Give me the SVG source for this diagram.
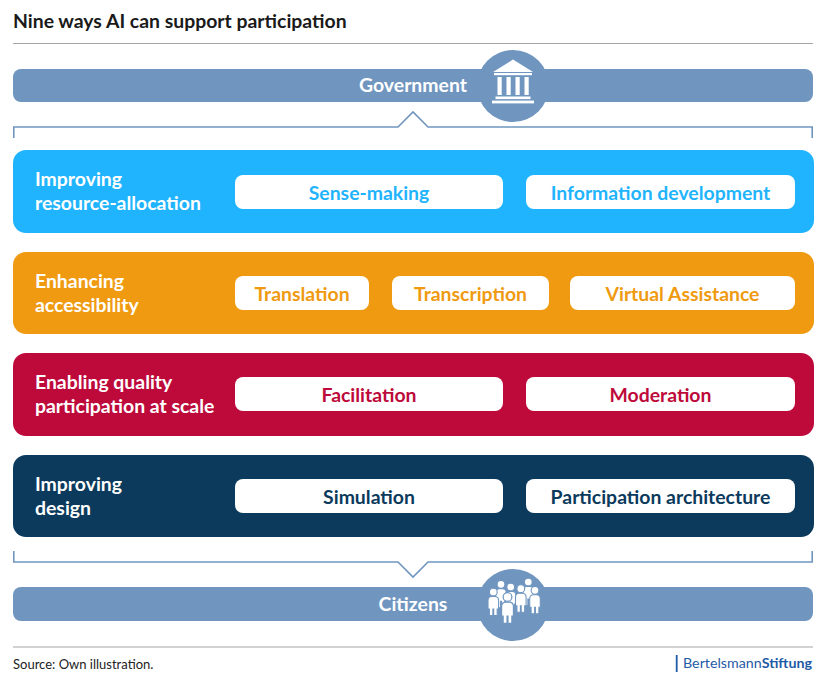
<svg xmlns="http://www.w3.org/2000/svg" width="828" height="683" viewBox="0 0 828 683">
<style>
text{font-family:Lato,"Noto Sans",sans-serif}
.title{font-size:19.4px;font-weight:700;fill:#1a1a1a}
.bar{fill:#7096c0}
.barlbl{font-size:19.4px;font-weight:700;fill:#fff;text-anchor:middle}
.brk{fill:none;stroke:#7096c0;stroke-width:1.6}
.sep{stroke:#a6a6a6;stroke-width:1.2}
.lbl{font-size:19.4px;font-weight:700;fill:#fff}
.pill{fill:#fff}
.pt{font-size:19.4px;font-weight:700;text-anchor:middle}
.ico{fill:#fff}
.src{font-size:13px;fill:#222}
</style>
<defs>
<g id="person">
<circle cx="0" cy="0" r="3.9"/>
<path d="M-5.3,17 V8.5 Q-5.3,4.5 -1.5,4.5 H1.5 Q5.3,4.5 5.3,8.5 V17 H3.9 V23.5 H0.4 V17 H-0.4 V23.5 H-3.9 V17 Z"/>
</g>
</defs>
<text class="title" x="13" y="28">Nine ways AI can support participation</text>
<line class="sep" x1="13" y1="43.5" x2="813" y2="43.5"/>

<g id="government">
<rect class="bar" x="13" y="69" width="800" height="33" rx="8"/>
<circle class="bar" cx="513" cy="86" r="36"/>
<text class="barlbl" x="413" y="92">Government</text>
<g class="ico">
<path d="M493,72 L513,59.5 L533,72 Z"/>
<rect x="494" y="73" width="38" height="2.2"/>
<rect x="497.5" y="77" width="4.2" height="18"/>
<rect x="506.5" y="77" width="4.2" height="18"/>
<rect x="515.5" y="77" width="4.2" height="18"/>
<rect x="524.5" y="77" width="4.2" height="18"/>
<rect x="495.5" y="96.5" width="35" height="2.6"/>
<rect x="492" y="100.6" width="42" height="2.8"/>
</g>
</g>

<g id="connectors">
<path class="brk" d="M13.8,138 V127 H398 L413,112 L428,127 H812.2 V138"/>
<path class="brk" d="M13.8,551 V562 H398 L413,577 L428,562 H812.2 V551"/>
</g>

<g id="band-resource">
<rect x="13" y="150" width="801" height="83" rx="13" fill="#1fb4fd"/>
<text class="lbl" x="35" y="186">Improving</text>
<text class="lbl" x="35" y="210">resource-allocation</text>
<rect class="pill" x="235" y="175" width="268" height="34" rx="8"/>
<text class="pt" x="369" y="200" fill="#1fb4fd">Sense-making</text>
<rect class="pill" x="526" y="175" width="269" height="34" rx="8"/>
<text class="pt" x="660.5" y="200" fill="#1fb4fd">Information development</text>
</g>

<g id="band-accessibility">
<rect x="13" y="252" width="801" height="82" rx="13" fill="#ef9a10"/>
<text class="lbl" x="35" y="288">Enhancing</text>
<text class="lbl" x="35" y="312">accessibility</text>
<rect class="pill" x="235" y="276" width="134" height="34" rx="8"/>
<text class="pt" x="302" y="301" fill="#ef9a10">Translation</text>
<rect class="pill" x="392" y="276" width="157" height="34" rx="8"/>
<text class="pt" x="470.5" y="301" fill="#ef9a10">Transcription</text>
<rect class="pill" x="570" y="276" width="225" height="34" rx="8"/>
<text class="pt" x="682.5" y="301" fill="#ef9a10">Virtual Assistance</text>
</g>

<g id="band-quality">
<rect x="13" y="353" width="801" height="83" rx="13" fill="#bd0a3b"/>
<text class="lbl" x="35" y="389">Enabling quality</text>
<text class="lbl" x="35" y="413">participation at scale</text>
<rect class="pill" x="235" y="377" width="268" height="34" rx="8"/>
<text class="pt" x="369" y="402" fill="#bd0a3b">Facilitation</text>
<rect class="pill" x="526" y="377" width="269" height="34" rx="8"/>
<text class="pt" x="660.5" y="402" fill="#bd0a3b">Moderation</text>
</g>

<g id="band-design">
<rect x="13" y="455" width="801" height="82" rx="13" fill="#0b3a5c"/>
<text class="lbl" x="35" y="491">Improving</text>
<text class="lbl" x="35" y="515">design</text>
<rect class="pill" x="235" y="479" width="268" height="34" rx="8"/>
<text class="pt" x="369" y="504" fill="#0b3a5c">Simulation</text>
<rect class="pill" x="526" y="479" width="269" height="34" rx="8"/>
<text class="pt" x="660.5" y="504" fill="#0b3a5c">Participation architecture</text>
</g>

<g id="citizens">
<rect class="bar" x="13" y="587" width="800" height="34" rx="8"/>
<circle class="bar" cx="513" cy="605" r="36"/>
<text class="barlbl" x="413" y="611">Citizens</text>
<g class="ico" stroke="#7096c0" stroke-width="1.1">
<use href="#person" x="501" y="584.3"/>
<use href="#person" x="510.7" y="587"/>
<use href="#person" x="528.3" y="582"/>
<use href="#person" x="493.3" y="592"/>
<use href="#person" x="520.8" y="588.7"/>
<use href="#person" x="535" y="590.3"/>
<g transform="translate(507.5 597) scale(1.12)"><use href="#person"/></g>
</g>
</g>

<line class="sep" x1="13" y1="647" x2="813" y2="647"/>
<text class="src" x="13" y="669">Source: Own illustration.</text>
<g id="logo">
<rect x="675.8" y="655" width="1.8" height="17" fill="#1f5ba6"/>
<text x="683" y="668" font-size="14" textLength="129" lengthAdjust="spacingAndGlyphs" fill="#1f5ba6">Bertelsmann<tspan font-weight="700">Stiftung</tspan></text>
</g>
</svg>
